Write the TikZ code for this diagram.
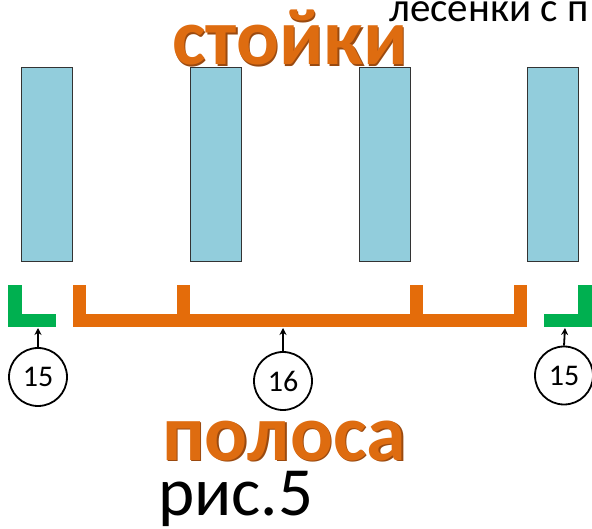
\documentclass[tikz,border=0pt]{standalone}
\usepackage{fontspec}
\setmainfont{Carlito}
\usetikzlibrary{arrows.meta}
\definecolor{postblue}{HTML}{92CDDC}
\definecolor{postedge}{HTML}{333333}
\definecolor{barorange}{HTML}{E46C0A}
\definecolor{bargreen}{HTML}{00B050}
\definecolor{wordorange}{HTML}{DE6C10}
\definecolor{wordshadow}{HTML}{9A4A10}
\tikzset{
  post/.style={fill=postblue,draw=postedge,line width=1pt},
  obar/.style={fill=barorange,draw=none},
  gbar/.style={fill=bargreen,draw=none},
  numcirc/.style={circle,draw=black,line width=1.8pt,minimum size=58pt,inner sep=0pt,font=\fontsize{30}{30}\selectfont},
  pointer/.style={line width=1.8pt,-{Stealth[length=7pt,width=7pt]}},
  bigword/.style={anchor=base west,inner sep=0pt,text=wordorange,font=\fontsize{80}{80}\selectfont\bfseries},
  shadowword/.style={anchor=base west,inner sep=0pt,text=wordshadow,font=\fontsize{80}{80}\selectfont\bfseries},
  plain/.style={anchor=base west,inner sep=0pt,text=black}
}
\begin{document}
\begin{tikzpicture}[x=1pt,y=-1pt]
\useasboundingbox (0,0) rectangle (592,529);
% top text
\node[plain,font=\fontsize{41}{41}\selectfont] (top) at (389,22) {лесенки с п};
\node[shadowword] (stojs) at (173.5,66.5) {стойки};
\node[bigword] (stoj) at (172,65) {стойки};
% posts
\draw[post] (21,68) rectangle (72,262);
\draw[post] (190,68) rectangle (241,262);
\draw[post] (359,68) rectangle (410,262);
\draw[post] (527,68) rectangle (578,262);
% green left
\fill[gbar] (8,285) rectangle (22,327);
\fill[gbar] (8,314) rectangle (56,327);
% orange comb
\fill[obar] (73,314) rectangle (527,327);
\fill[obar] (73,285) rectangle (86,314);
\fill[obar] (177,285) rectangle (190,314);
\fill[obar] (410,285) rectangle (423,314);
\fill[obar] (514,285) rectangle (527,314);
% green right
\fill[gbar] (578,285) rectangle (592,327);
\fill[gbar] (544,314) rectangle (592,327);
% targets
\coordinate (tA) at (38,328);
\coordinate (tB) at (283,328);
\coordinate (tC) at (565,328);
% circles
\node[numcirc] (cA) at (38,377) {15};
\node[numcirc] (cB) at (283,381) {16};
\node[numcirc] (cC) at (564,375.5) {15};
\draw[pointer] (cA.north) -- (tA);
\draw[pointer] (cB.north) -- (tB);
\draw[pointer] (cC.north) -- (tC);
% bottom words
\node[shadowword] (polos) at (163.5,461.5) {полоса};
\node[bigword] (polo) at (162,460) {полоса};
\node[plain,font=\fontsize{69}{69}\selectfont] (ris) at (158,515) {рис.5};
\end{tikzpicture}
\end{document}
